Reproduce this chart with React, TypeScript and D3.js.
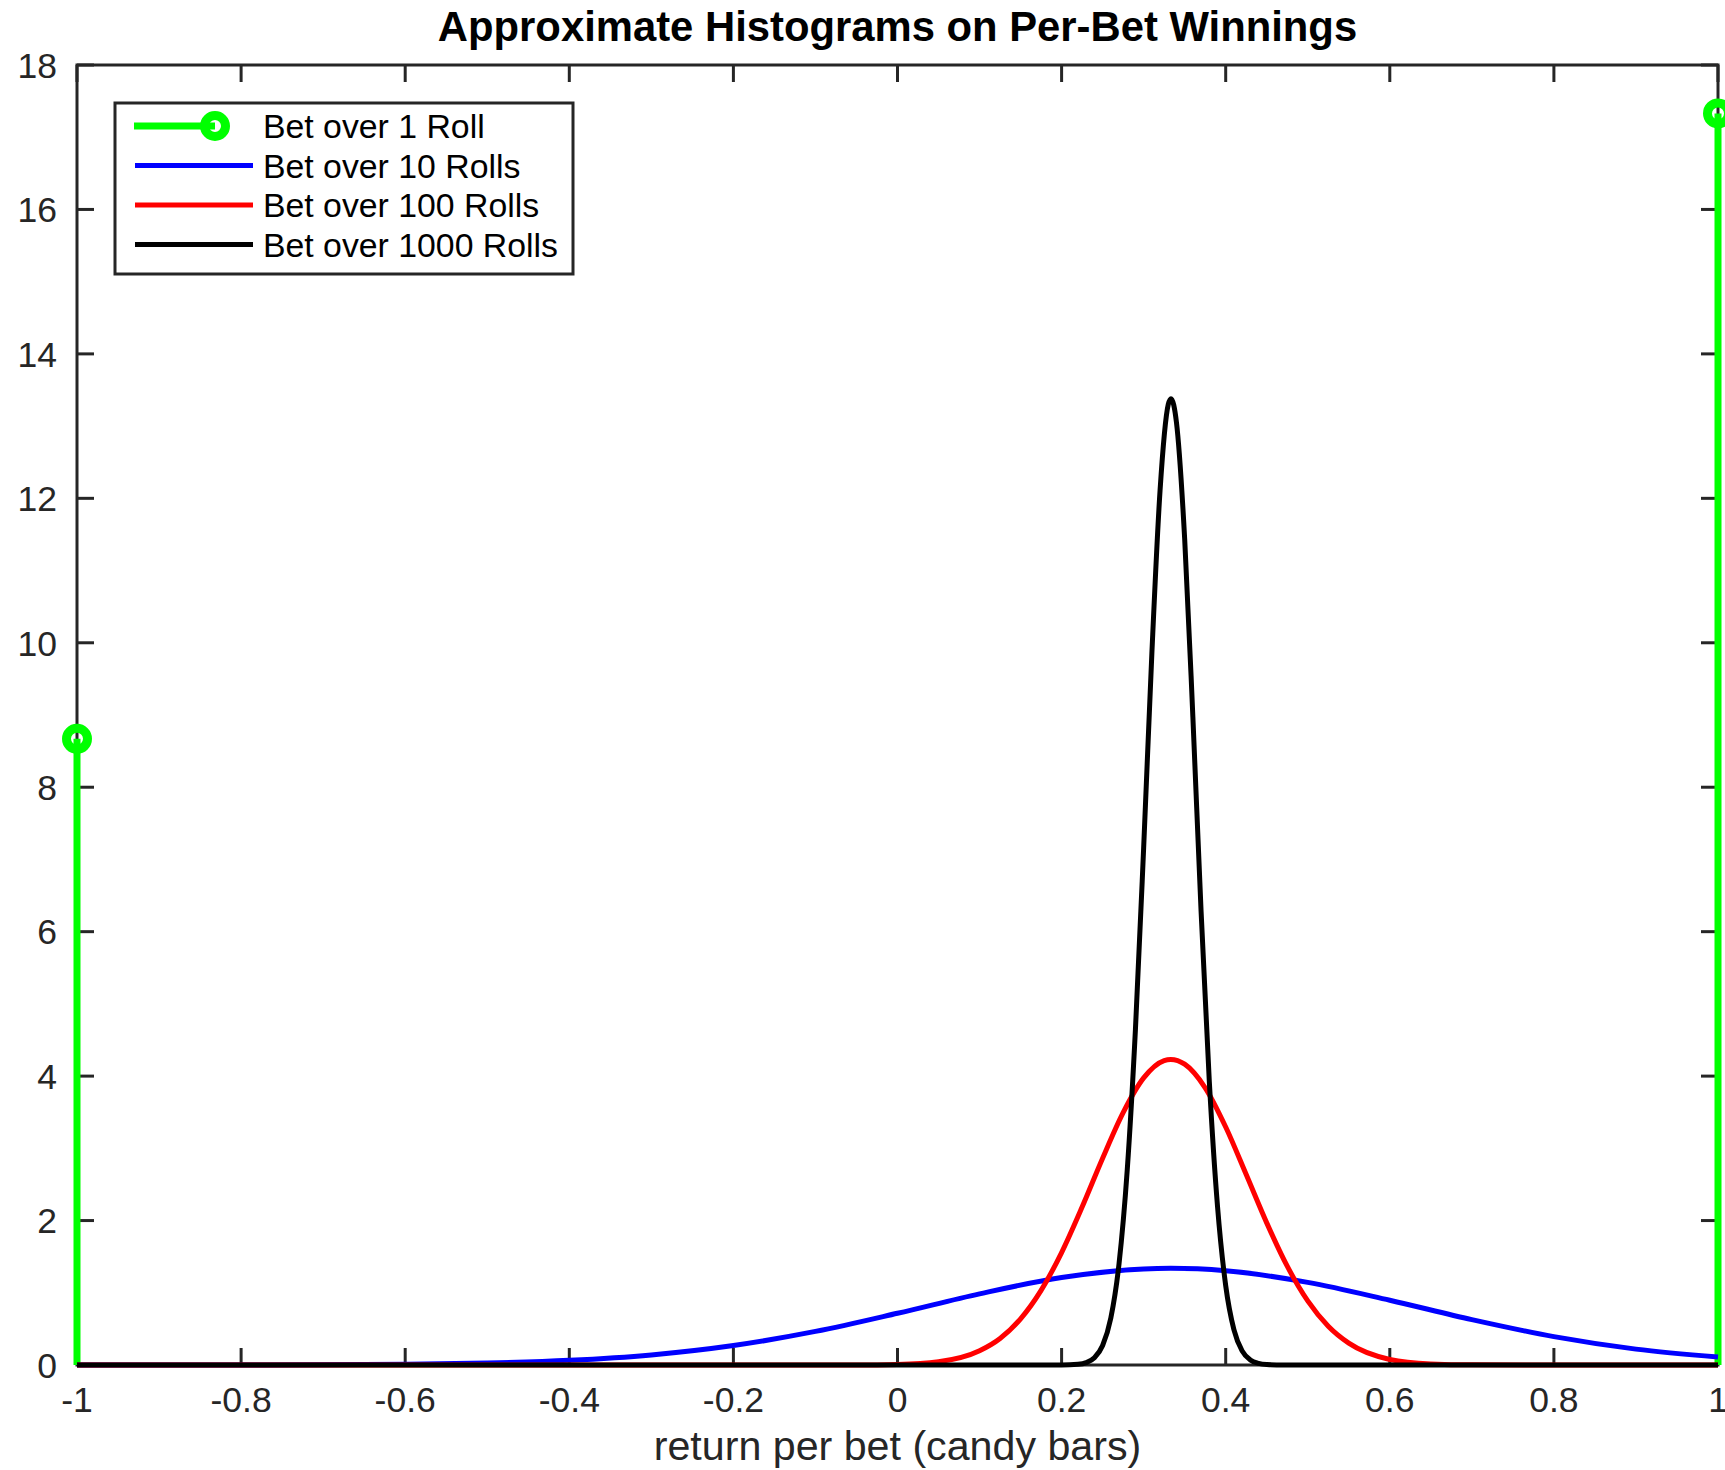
import React from "react";
import * as d3 from "d3";

// ---- Data ----
const oneRollX = [-1, 1];
const oneRollY = [8.67, 17.33];

const tenX = [-1.0, -0.9, -0.8, -0.7, -0.6, -0.5, -0.4, -0.3, -0.2, -0.1, 0.0, 0.1, 0.2, 0.3, 0.333, 0.4, 0.5, 0.6, 0.7, 0.8, 0.9, 1.0];
const tenY = [0.0, 0.0003, 0.001, 0.003, 0.01, 0.027, 0.065, 0.14, 0.27, 0.465, 0.716, 0.985, 1.211, 1.33, 1.338, 1.305, 1.144, 0.897, 0.628, 0.393, 0.22, 0.11];

const hundredX = [-1.0, -0.05, 0.0, 0.05, 0.1, 0.125, 0.15, 0.175, 0.2, 0.225, 0.25, 0.275, 0.3, 0.325, 0.333, 0.35, 0.375, 0.4, 0.425, 0.45, 0.475, 0.5, 0.525, 0.55, 0.6, 0.65, 0.7, 1.0];
const hundredY = [0.0, 0.001, 0.008, 0.046, 0.198, 0.368, 0.639, 1.033, 1.557, 2.187, 2.863, 3.494, 3.975, 4.215, 4.23, 4.165, 3.838, 3.295, 2.637, 1.968, 1.368, 0.887, 0.536, 0.302, 0.077, 0.015, 0.002, 0.0];

const thousandX = [-1.0, 0.2, 0.22, 0.23, 0.24, 0.25, 0.26, 0.27, 0.28, 0.29, 0.3, 0.31, 0.32, 0.33, 0.3333, 0.34, 0.35, 0.36, 0.37, 0.38, 0.39, 0.4, 0.41, 0.42, 0.43, 0.44, 0.45, 0.47, 1.0];
const thousandY = [0.0, 0.0, 0.01, 0.033, 0.1, 0.269, 0.65, 1.402, 2.701, 4.65, 7.16, 9.85, 12.11, 13.3, 13.38, 13.05, 11.44, 8.97, 6.28, 3.93, 2.2, 1.1, 0.49, 0.195, 0.07, 0.022, 0.006, 0.0, 0.0];

const xTicks = [-1, -0.8, -0.6, -0.4, -0.2, 0, 0.2, 0.4, 0.6, 0.8, 1];
const yTicks = [0, 2, 4, 6, 8, 10, 12, 14, 16, 18];

const legendLabels = ["Bet over 1 Roll", "Bet over 10 Rolls", "Bet over 100 Rolls", "Bet over 1000 Rolls"];
const seriesColors = ["#00ff00", "#0000ff", "#ff0000", "#000000"];

const title = "Approximate Histograms on Per-Bet Winnings";
const xLabel = "return per bet (candy bars)";

// ---- Layout ----
const W = 1725;
const H = 1470;
const L = 77, R = 1718, T = 65, B = 1365;
const FONT = "'Liberation Sans', Arial, Helvetica, sans-serif";
const AX = "#262626";

export default function App() {
  React.useEffect(() => {
    document.body.style.margin = "0";
  }, []);

  const x = d3.scaleLinear().domain([-1, 1]).range([L, R]);
  const y = d3.scaleLinear().domain([0, 18]).range([B, T]);

  const line = d3
    .line<[number, number]>()
    .x((d) => x(d[0]))
    .y((d) => y(d[1]))
    .curve(d3.curveMonotoneX);

  const zip = (a: number[], b: number[]) => a.map((v, i) => [v, b[i]] as [number, number]);
  const curves = [
    { pts: zip(tenX, tenY), color: seriesColors[1] },
    { pts: zip(hundredX, hundredY), color: seriesColors[2] },
    { pts: zip(thousandX, thousandY), color: seriesColors[3] },
  ];

  const tickLen = 17;
  const fmt = (v: number) => String(v);

  const legRows = [126, 165.5, 205, 244.5];

  return (
    <svg width={W} height={H} style={{ display: "block", background: "#fff" }}>
      <rect x={0} y={0} width={W} height={H} fill="#fff" />
      {/* axes box */}
      <g stroke={AX} strokeWidth={3} fill="none">
        <rect x={L} y={T} width={R - L} height={B - T} />
        {xTicks.map((t) => (
          <g key={"xt" + t}>
            <line x1={x(t)} x2={x(t)} y1={B} y2={B - tickLen} />
            <line x1={x(t)} x2={x(t)} y1={T} y2={T + tickLen} />
          </g>
        ))}
        {yTicks.map((t) => (
          <g key={"yt" + t}>
            <line x1={L} x2={L + tickLen} y1={y(t)} y2={y(t)} />
            <line x1={R} x2={R - tickLen} y1={y(t)} y2={y(t)} />
          </g>
        ))}
      </g>
      {/* tick labels */}
      <g fontFamily={FONT} fontSize={35.5} fill={AX}>
        {xTicks.map((t) => (
          <text key={"xl" + t} x={x(t)} y={1412} textAnchor="middle">
            {fmt(t)}
          </text>
        ))}
        {yTicks.map((t) => (
          <text key={"yl" + t} x={57} y={y(t)} dy="0.36em" textAnchor="end">
            {fmt(t)}
          </text>
        ))}
      </g>
      {/* 1 roll stems */}
      {oneRollX.map((v, i) => (
        <g key={"g" + i}>
          <line x1={x(v)} x2={x(v)} y1={y(0)} y2={y(oneRollY[i])} stroke={seriesColors[0]} strokeWidth={7} />
          <circle cx={x(v)} cy={y(oneRollY[i])} r={10.5} fill="none" stroke={seriesColors[0]} strokeWidth={9} />
        </g>
      ))}
      {/* curves */}
      {curves.map((c, i) => (
        <path key={"c" + i} d={line(c.pts) || ""} fill="none" stroke={c.color} strokeWidth={5} strokeLinejoin="round" />
      ))}
      {/* legend */}
      <g>
        <rect x={115} y={103} width={458} height={171} fill="#fff" stroke="#262626" strokeWidth={3} />
        {legendLabels.map((lab, i) => (
          <g key={"lg" + i}>
            {i === 0 ? (
              <>
                <line x1={134} x2={215} y1={legRows[i]} y2={legRows[i]} stroke={seriesColors[0]} strokeWidth={7} />
                <circle cx={215} cy={legRows[i]} r={10.5} fill="none" stroke={seriesColors[0]} strokeWidth={9} />
              </>
            ) : (
              <line x1={135} x2={253} y1={legRows[i]} y2={legRows[i]} stroke={seriesColors[i]} strokeWidth={5} />
            )}
            <text x={263} y={legRows[i]} dy="0.36em" fontFamily={FONT} fontSize={33.8} fill="#000">
              {lab}
            </text>
          </g>
        ))}
      </g>
      {/* title & label */}
      <text x={(L + R) / 2} y={41} textAnchor="middle" fontFamily={FONT} fontSize={41.8} fontWeight="bold" fill="#000">
        {title}
      </text>
      <text x={(L + R) / 2} y={1460} textAnchor="middle" fontFamily={FONT} fontSize={41.2} fill={AX}>
        {xLabel}
      </text>
    </svg>
  );
}
